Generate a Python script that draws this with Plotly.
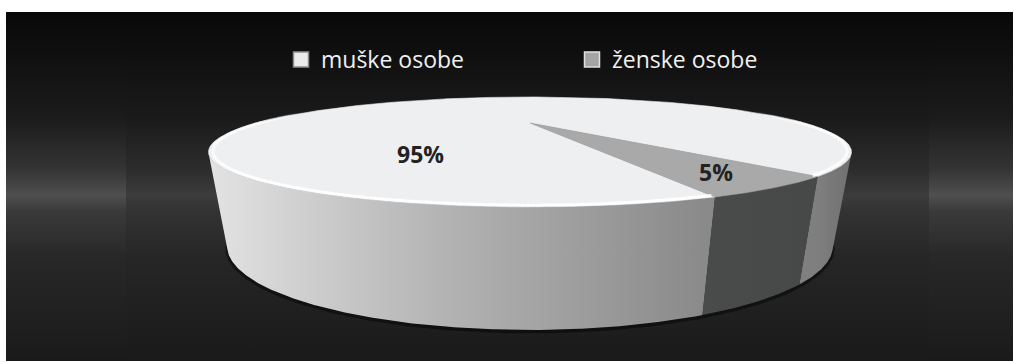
import numpy as np
import plotly.graph_objects as go

# ---- data -------------------------------------------------------------
categories = ["muške osobe", "ženske osobe"]
shares = [95, 5]
value_labels = [f"{v}%" for v in shares]

# ---- canvas -----------------------------------------------------------
W, H = 1014, 362
FRAME = dict(x0=6, x1=1013, y0=12, y1=361)        # dark chart area
PLOT_AREA = dict(x0=126, x1=929)                   # inner plot area

# ---- 3-D view (perspective camera looking down on the pie) ------------
CX, CY = 530.0, 123.0      # screen position of the pie centre
FOCAL = 514.0
ELEV = np.radians(8.36)
DIST = 1.88                # camera distance in pie radii
THICK = 0.229              # pie thickness in pie radii
BASE_SQUEEZE = 0.965       # extra horizontal taper of the base rim
BASE_FLATTEN = 0.87        # vertical flattening of the base rim
START_DEG = -70.0          # first slice starts here, slices run clockwise

TOP_COLORS = ["#eeeff1", "#a8a9a8"]
WALL_SCALES = [
    [[0, "#e3e3e3"], [0.14, "#d0d0d0"], [0.36, "#b4b4b4"], [0.49, "#a6a6a6"],
     [0.61, "#9a9a9a"], [0.77, "#8a8a8a"], [0.95, "#7e7e7e"], [1, "#707070"]],
    [[0, "#555656"], [1, "#464747"]],
]
KEY_FILL = ["#ececec", "#a4a4a4"]
KEY_LINE = ["#8e8e8e", "#e0e0e0"]
LABEL_ANGLE = [-117.0, -61.0]
LABEL_RADIUS = [0.626, 0.852]


def project(x, y, z):
    c, s = np.cos(ELEV), np.sin(ELEV)
    depth = DIST + y * c - z * s
    sx = FOCAL * x / depth
    sy = FOCAL * (y * s + z * c) / depth
    return CX + sx, CY - sy


_, FRONT_BASE_Y = project(0.0, -1.0, -THICK)


def rim(t_deg, z, r=1.0):
    t = np.radians(t_deg)
    px, py = project(r * np.cos(t), r * np.sin(t), z)
    if z < 0:
        px = CX + (px - CX) * BASE_SQUEEZE
        py = FRONT_BASE_Y - (FRONT_BASE_Y - py) * BASE_FLATTEN
    return px, py


def runs(mask):
    idx = np.flatnonzero(mask)
    if idx.size == 0:
        return []
    cuts = np.flatnonzero(np.diff(idx) > 1) + 1
    return np.split(idx, cuts)


fig = go.Figure()

# ---- background gradients --------------------------------------------
bg_scale = [[0, "#080808"], [0.30, "#1b1b1b"], [0.45, "#343434"], [0.525, "#4f4f4f"],
            [0.57, "#3a3a3a"], [0.70, "#282828"], [1, "#1a1a1a"]]
inner_scale = [[0, "#080808"], [0.30, "#1a1a1a"], [0.45, "#2c2c2c"], [0.525, "#3c3c3c"],
               [0.57, "#333333"], [0.70, "#262626"], [1, "#1a1a1a"]]
for (x0, x1), scale in (((FRAME["x0"], FRAME["x1"]), bg_scale),
                        ((PLOT_AREA["x0"], PLOT_AREA["x1"]), inner_scale)):
    fig.add_trace(go.Scatter(
        x=[x0, x1, x1, x0, x0],
        y=[FRAME["y0"], FRAME["y0"], FRAME["y1"], FRAME["y1"], FRAME["y0"]],
        mode="lines", line=dict(width=0), fill="toself",
        fillgradient=dict(type="vertical", colorscale=scale,
                          start=FRAME["y0"], stop=FRAME["y1"]),
        hoverinfo="skip", showlegend=False))

# ---- slice angles from the shares --------------------------------------
total = sum(shares)
spans = []
a = START_DEG
for v in shares:
    span = 360.0 * v / total
    spans.append((a, a - span))
    a -= span

c_el = np.cos(ELEV)
full_t = np.linspace(0, 360, 1441)
tx, _ = rim(full_t, 0.0)
pie_xmin, pie_xmax = tx.min(), tx.max()

# soft shadow along the bottom edge of the pie
front = np.linspace(-150, -30, 300)
bx, by = rim(front, -THICK)
fig.add_trace(go.Scatter(x=bx, y=by + 1.5, mode="lines",
                         line=dict(color="rgba(0,0,0,0.45)", width=4),
                         hoverinfo="skip", showlegend=False))

# ---- side walls -------------------------------------------------------
for i, (a0, a1) in enumerate(spans):
    t = np.linspace(a0, a1, int(abs(a1 - a0) * 4) + 2)
    visible = (-1.0 - DIST * c_el * np.sin(np.radians(t))) > 0
    for run in runs(visible):
        tt = t[run]
        xt, yt = rim(tt, 0.0)
        xb, yb = rim(tt[::-1], -THICK)
        fig.add_trace(go.Scatter(
            x=np.concatenate([xt, xb, xt[:1]]),
            y=np.concatenate([yt, yb, yt[:1]]),
            mode="lines", line=dict(width=0), fill="toself",
            fillgradient=dict(type="horizontal", colorscale=WALL_SCALES[i],
                              start=pie_xmin, stop=pie_xmax),
            hoverinfo="skip", showlegend=False))

# ---- top faces --------------------------------------------------------
cx0, cy0 = project(0.0, 0.0, 0.0)
for i, (a0, a1) in enumerate(spans):
    t = np.linspace(a0, a1, int(abs(a1 - a0) * 4) + 2)
    xs, ys = rim(t, 0.0)
    fig.add_trace(go.Scatter(
        x=np.concatenate([[cx0], xs, [cx0]]),
        y=np.concatenate([[cy0], ys, [cy0]]),
        mode="lines", line=dict(width=0.6, color=TOP_COLORS[i]),
        fill="toself", fillcolor=TOP_COLORS[i],
        hoverinfo="skip", showlegend=False))

# bevel highlight along the near rim of the large slice, fading out
# towards the back of the pie
a0, a1 = spans[0]
t = np.linspace(a0, a1, int(abs(a1 - a0) * 2) + 2)
sin_t = np.sin(np.radians(t))
alpha = np.clip((0.30 - sin_t) / 0.35, 0.0, 1.0)
for k in range(len(t) - 1):
    al = 0.5 * (alpha[k] + alpha[k + 1])
    if al <= 0.02:
        continue
    hx, hy = rim(t[k:k + 2], 0.0, r=0.99)
    fig.add_trace(go.Scatter(x=hx, y=hy, mode="lines",
                             line=dict(color=f"rgba(255,255,255,{0.95 * al:.3f})", width=3),
                             hoverinfo="skip", showlegend=False))

# ---- value labels -----------------------------------------------------
for text, ang, rad in zip(value_labels, LABEL_ANGLE, LABEL_RADIUS):
    lx, ly = rim(ang, 0.0, r=rad)
    fig.add_annotation(x=float(lx), y=float(ly), text=f"<b>{text}</b>",
                       showarrow=False,
                       font=dict(family="Open Sans", size=23, color="#222222"))

# ---- legend entries ---------------------------------------------------
for name, fc, lc in zip(categories, KEY_FILL, KEY_LINE):
    fig.add_trace(go.Scatter(
        x=[None], y=[None], mode="markers", name=name,
        marker=dict(symbol="square", size=15, color=fc, line=dict(color=lc, width=1.5))))

fig.update_layout(
    width=W, height=H,
    margin=dict(l=0, r=0, t=0, b=0),
    paper_bgcolor="white", plot_bgcolor="rgba(0,0,0,0)",
    xaxis=dict(range=[0, W], visible=False, fixedrange=True),
    yaxis=dict(range=[H, 0], visible=False, fixedrange=True),
    showlegend=True,
    legend=dict(orientation="h", x=281 / W, xanchor="left",
                y=1 - 38 / H, yanchor="top",
                font=dict(family="Open Sans", size=23, color="#f0f0f0"),
                bgcolor="rgba(0,0,0,0)", entrywidth=246, entrywidthmode="pixels",
                itemclick=False, itemdoubleclick=False),
)

fig.write_html("out.html")
